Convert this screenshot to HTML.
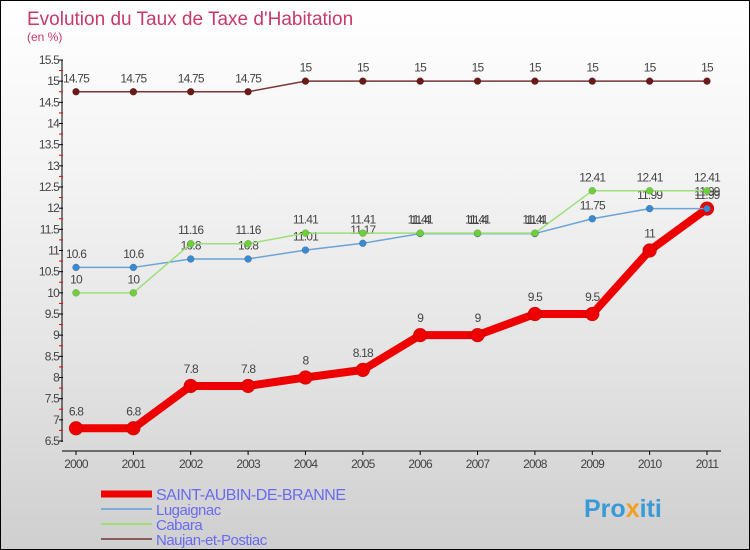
<!DOCTYPE html>
<html><head><meta charset="utf-8">
<style>
html,body{margin:0;padding:0;}
body{width:750px;height:550px;overflow:hidden;font-family:"Liberation Sans",sans-serif;}
#wrap{position:relative;width:748px;height:548px;border:1px solid #000;background:linear-gradient(#ffffff,#f4f4f4 30%,#e4e4e4 65%,#cfcfcf);}
</style></head><body>
<div id="wrap">
<svg id="chart" width="748" height="548" style="position:absolute;left:0;top:0;font-family:'Liberation Sans',sans-serif"></svg>
</div>
<script>
const years=[2000,2001,2002,2003,2004,2005,2006,2007,2008,2009,2010,2011];
const saintAubin=[6.8,6.8,7.8,7.8,8,8.18,9,9,9.5,9.5,11,11.99];
const lugaignac=[10.6,10.6,10.8,10.8,11.01,11.17,11.4,11.4,11.4,11.75,11.99,11.99];
const cabara=[10,10,11.16,11.16,11.41,11.41,11.41,11.41,11.41,12.41,12.41,12.41];
const naujan=[14.75,14.75,14.75,14.75,15,15,15,15,15,15,15,15];
const yTicks=[6.5,7,7.5,8,8.5,9,9.5,10,10.5,11,11.5,12,12.5,13,13.5,14,14.5,15,15.5];

const svg=document.getElementById('chart');
const NS='http://www.w3.org/2000/svg';
function X(i){return 75+i*(706-75)/(years.length-1);}
function Y(v){return 440-(v-6.5)*(440-59)/9;}
function mk(t,a,txt){const e=document.createElementNS(NS,t);for(const k in a)e.setAttribute(k,a[k]);if(txt!==undefined)e.textContent=txt;svg.appendChild(e);return e;}
function fmt(v){return String(v);}

let e;
e=mk('text',{x:26,y:24,'font-size':19,fill:'#c8386a'},'Evolution du Taux de Taxe d\'Habitation');


e=mk('text',{x:26,y:40,'font-size':12,fill:'#c8386a'},'(en %)');



e=mk('line',{x1:61,y1:59,x2:61,y2:441,stroke:'#000','stroke-width':1});


e=mk('line',{x1:61,y1:450,x2:720,y2:450,stroke:'#000','stroke-width':1});


yTicks.forEach(v=>{
  const y=Y(v);
  e=mk('line',{x1:58,y1:y,x2:62,y2:y,stroke:'#000'});
  
  
  if(v<15.5){e=mk('line',{x1:58,y1:y-10.6,x2:62,y2:y-10.6,stroke:'#e00'});
  
  }
  e=mk('text',{x:58,y:y+4,'font-size':12,fill:'#444','text-anchor':'end','letter-spacing':'-0.8'},fmt(v));
  
  
});
years.forEach((yr,i)=>{
  e=mk('line',{x1:X(i),y1:450,x2:X(i),y2:454,stroke:'#000'});
  
  
  e=mk('text',{x:X(i),y:467,'font-size':12,fill:'#444','text-anchor':'middle','letter-spacing':'-0.8'},String(yr));
  
  
});

function series(vals,color,dot,w,r,name){
  const pts=vals.map((v,i)=>X(i)+','+Y(v)).join(' ');
  e=mk('polyline',{points:pts,fill:'none',stroke:color,'stroke-width':w,'stroke-linejoin':'round'});
  
  
  vals.forEach((v,i)=>{
    e=mk('circle',{cx:X(i),cy:Y(v),r:r,fill:dot,stroke:'rgba(0,0,0,0.25)','stroke-width':0.5});
    
    
    e=mk('text',{x:X(i),y:Y(v)-(r+6),'font-size':12,fill:'#444','text-anchor':'middle','letter-spacing':'-0.8'},fmt(v));
    
    
  });
}
series(saintAubin,'#ee0000','#ee0000',8,7,'saint-aubin');
series(naujan,'#7a3535','#6b1a1a',1.5,3.5,'naujan');
series(lugaignac,'#6aa3d5','#3a8ad0',1.5,3.5,'lugaignac');
series(cabara,'#9de07a','#6fcf3a',1.5,3.5,'cabara');

const legNames=['SAINT-AUBIN-DE-BRANNE','Lugaignac','Cabara','Naujan-et-Postiac'];
const legColors=['#ee0000','#7aaed8','#9de07a','#8a5a5a'];
const legW=[7,2,2,2];
legNames.forEach((n,i)=>{
  const y=493+i*15;
  e=mk('line',{x1:100,y1:y,x2:151,y2:y,stroke:legColors[i],'stroke-width':legW[i]});
  
  
  e=mk('text',{x:155,y:y+6,'font-size':i===0?16:15,fill:'#6a6af0','letter-spacing':'-0.5'},n);
  
  
});
const logo=document.createElementNS(NS,'text');
logo.setAttribute('x',583);logo.setAttribute('y',516);logo.setAttribute('font-size',25);logo.setAttribute('font-weight','bold');logo.setAttribute('fill','#3a9ad8');
logo.innerHTML='Pro<tspan fill="#f0a020">x</tspan>iti';


svg.appendChild(logo);
</script>
</body></html>
